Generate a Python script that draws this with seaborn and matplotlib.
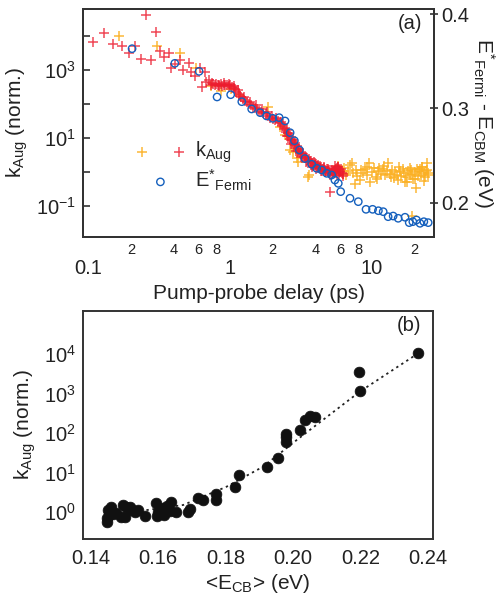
import numpy as np
import pandas as pd
import matplotlib
matplotlib.use("Agg")
import matplotlib.pyplot as plt
import seaborn as sns
from matplotlib.ticker import FixedLocator, FixedFormatter
from matplotlib.legend_handler import HandlerTuple

# ---------------- data: panel (a) ----------------
# red k_Aug crosses: delay (ps), log10 k
red_t = [0.108, 0.129, 0.150, 0.172, 0.194, 0.213, 0.235, 0.255, 0.279, 0.300,
         0.320, 0.342, 0.372, 0.386, 0.408, 0.447, 0.466, 0.514, 0.534, 0.563,
         0.611, 0.636, 0.662, 0.679, 0.716, 0.74, 0.76, 0.78, 0.80, 0.82,
         0.84, 0.86, 0.88, 0.90, 0.92, 0.95, 0.98, 1.00, 1.03, 1.06,
         1.09, 1.11, 1.13, 1.17, 1.20, 1.24, 1.28, 1.32, 1.36, 1.40,
         1.45, 1.50, 1.55, 1.60, 1.66, 1.72, 1.78, 1.85, 1.92, 2.00,
         2.08, 2.16, 2.25, 2.32, 2.40, 2.48, 2.56, 2.64, 2.72, 2.80,
         2.90, 3.00, 3.10, 3.22, 3.35, 3.50, 3.65, 3.80, 3.95, 4.10,
         4.30, 4.50, 4.70, 4.90, 5.10, 5.30, 5.50, 5.70, 5.90, 6.10,
         6.30, 5.10,
         1.15, 1.26, 1.38, 1.52, 1.68, 1.82, 1.98, 2.12, 2.28, 2.36,
         2.44, 2.52, 2.60, 2.68, 2.76, 2.85, 2.95, 3.05, 3.16, 3.28,
         3.42, 3.58, 3.72, 3.88, 4.02, 4.20, 4.40, 4.60, 4.80, 5.00,
         5.20, 5.40, 5.60, 5.80, 6.00, 2.50, 2.70, 2.90, 3.15, 3.45,
         3.75, 4.05, 4.35, 4.65, 4.95, 5.25, 5.55, 5.85,
         2.58, 2.74, 2.88, 3.02, 3.20, 3.38, 3.55, 3.70, 3.85, 4.00,
         4.15, 4.32, 4.48, 4.62, 4.78, 4.92, 5.06, 5.22, 5.38, 5.52,
         5.66, 5.78, 5.95, 6.05, 6.20, 0.75, 0.83, 0.91, 0.99, 1.07]
red_logk = [3.81, 4.08, 3.76, 3.69, 3.49, 3.71, 3.32, 4.62, 3.30, 4.11,
            3.57, 3.37, 3.49, 3.05, 3.18, 3.30, 3.01, 3.20, 2.93, 2.83,
            3.05, 2.49, 2.95, 2.64, 2.71, 2.55, 2.58, 2.56, 2.60, 2.55,
            2.57, 2.58, 2.54, 2.57, 2.55, 2.56, 2.52, 2.57, 2.50, 2.53,
            2.45, 2.34, 2.40, 2.23, 2.20, 2.15, 2.10, 2.05, 2.00, 1.96,
            1.92, 1.88, 1.84, 1.80, 1.75, 1.72, 1.69, 1.64, 1.60, 1.56,
            1.52, 1.49, 1.45, 1.36, 1.27, 1.18, 1.07, 0.97, 0.89, 0.81,
            0.71, 0.63, 0.55, 0.48, 0.42, 0.35, 0.30, 0.25, 0.21, 0.17,
            0.13, 0.10, 0.06, 0.03, 0.01, -0.01, 0.05, 0.12, 0.08, -0.02,
            -0.06, -0.58,
            2.30, 2.20, 2.06, 1.97, 1.84, 1.76, 1.66, 1.58, 1.48, 1.42,
            1.30, 1.22, 1.12, 1.04, 0.94, 0.86, 0.76, 0.68, 0.60, 0.52,
            0.45, 0.38, 0.33, 0.28, 0.24, 0.20, 0.16, 0.12, 0.09, 0.06,
            0.04, 0.02, 0.10, 0.15, 0.02, 1.05, 0.83, 0.62, 0.43, 0.30,
            0.16, 0.08, 0.04, 0.00, -0.04, -0.06, -0.03, -0.10,
            1.15, 0.95, 0.80, 0.68, 0.54, 0.40, 0.36, 0.22, 0.18, 0.26,
            0.12, 0.18, 0.04, 0.14, 0.02, 0.10, -0.08, 0.07, -0.04, 0.18,
            -0.10, 0.16, 0.00, 0.10, -0.12, 2.62, 2.52, 2.62, 2.60, 2.47]

# orange k_Aug crosses: delay (ps), log10 k
orange_t = [0.164, 0.306, 0.447, 0.579, 0.737, 0.868, 1.02, 1.16, 1.86, 2.25,
            2.44, 2.66, 2.78, 2.96, 3.03, 3.56, 3.58, 5.6, 5.8, 6.0,
            6.2, 6.4, 6.6, 6.8, 7.0, 7.2, 7.4, 7.7, 7.9, 8.2,
            8.4, 8.7, 9.0, 9.3, 9.6, 9.7, 10.0, 10.3, 10.6, 11.0,
            11.3, 11.6, 12.0, 12.4, 12.7, 13.0, 13.4, 13.8, 14.2, 14.6,
            15.0, 15.3, 15.7, 16.1, 16.5, 16.9, 17.3, 17.6, 18.0, 18.4,
            18.8, 19.2, 19.6, 20.0, 20.4, 20.8, 21.2, 21.6, 22.0, 22.4,
            22.7, 23.1, 23.5, 23.9, 24.3, 24.7, 25.0, 7.6, 9.2, 10.8,
            12.2, 13.6, 15.5, 17.0, 18.6, 20.2, 21.8, 23.3, 24.6, 19.0]
orange_logk = [3.99, 3.71, 3.49, 3.05, 2.52, 2.37, 2.44, 2.26, 1.92, 1.33,
               1.09, 0.65, 0.60, 0.40, 0.30, -0.14, -0.09, 0.10, 0.18, 0.05,
               -0.05, 0.12, -0.10, 0.02, 0.20, 0.26, -0.02, 0.07, -0.12, -0.23,
               0.05, -0.02, 0.10, -0.08, 0.26, -0.28, 0.00, 0.12, -0.15, 0.04,
               0.11, -0.05, 0.08, -0.10, 0.02, 0.26, -0.06, 0.06, -0.18, 0.00,
               -0.08, -0.23, 0.04, -0.12, 0.08, -0.02, -0.16, -0.28, 0.02, -0.10,
               0.06, -0.06, -0.20, 0.00, -0.48, 0.08, -0.12, 0.02, -0.08, 0.16,
               0.16, -0.04, -0.16, 0.04, 0.26, -0.10, -0.02, -0.35, 0.15, -0.22,
               0.18, -0.15, 0.14, -0.30, 0.12, -0.20, 0.10, -0.25, 0.06, -1.29]

# blue E*_Fermi circles: delay (ps), energy (eV)
blue_t = [0.204, 0.408, 0.605, 0.810, 1.01, 1.21, 1.42, 1.63, 1.81, 2.0,
          2.22, 2.44, 2.65, 2.84, 3.08, 3.37, 3.76, 4.08, 4.43, 4.80,
          5.20, 5.48, 5.79, 6.02, 7.0, 8.01, 9.08, 10.1, 11.1, 12.0,
          13.0, 14.1, 15.3, 17.1, 18.3, 19.4, 20.6, 21.8, 23.2, 24.9]
blue_E = [0.3633, 0.3478, 0.3393, 0.3122, 0.3146, 0.3072, 0.2995, 0.2956, 0.2921, 0.2896,
          0.2903, 0.2868, 0.2744, 0.2659, 0.2561, 0.2470, 0.2410, 0.2367, 0.2349, 0.2314,
          0.2296, 0.2243, 0.2208, 0.2120, 0.2050, 0.2014, 0.1933, 0.1933, 0.1918, 0.1908,
          0.1855, 0.1862, 0.1838, 0.1849, 0.1792, 0.1802, 0.1820, 0.1785, 0.1802, 0.1792]

# ---------------- data: panel (b) ----------------
ecb = [0.1447, 0.1448, 0.1452, 0.1455, 0.1461, 0.1465, 0.1476, 0.1490, 0.1496, 0.1501,
       0.1505, 0.1516, 0.1522, 0.1530, 0.1540, 0.1560, 0.1593, 0.1596, 0.1600, 0.1604,
       0.1614, 0.1618, 0.1625, 0.1634, 0.1639, 0.1654, 0.1688, 0.1695, 0.1718, 0.1733,
       0.1772, 0.1772, 0.1827, 0.1840, 0.1923, 0.1956, 0.1979, 0.1980, 0.1980, 0.2020,
       0.2035, 0.2050, 0.2065, 0.2196, 0.2198, 0.2369]
ecb_logk = [-0.25, -0.16, 0.05, -0.08, 0.12, -0.05, -0.03, -0.13, 0.18, -0.12,
            0.14, 0.12, 0.05, 0.01, 0.05, -0.10, 0.22, -0.10, 0.00, 0.05,
            0.11, -0.08, 0.15, 0.04, 0.26, 0.01, 0.01, 0.08, 0.35, 0.30,
            0.47, 0.30, 0.64, 0.95, 1.13, 1.38, 1.91, 1.78, 1.98, 2.08,
            2.33, 2.43, 2.40, 3.55, 3.07, 4.03]
fit_E = [0.1565, 0.1674, 0.1802, 0.1911, 0.2010, 0.2198, 0.2371]
fit_logk = [0.05, 0.18, 0.64, 1.15, 1.82, 3.05, 4.02]

# tick labels
xa_major = [0.1, 1, 10]
xa_major_labels = ["0.1", "1", "10"]
xa_minor = [0.2, 0.3, 0.4, 0.5, 0.6, 0.7, 0.8, 0.9, 2, 3, 4, 5, 6, 7, 8, 9, 20]
xa_minor_labels = ["2", "", "4", "", "6", "", "8", "", "2", "", "4", "", "6", "", "8", "", "2"]
ya_ticks = [1e-1, 1, 1e1, 1e2, 1e3, 1e4]
ya_labels = ["$10^{-1}$", "", "$10^{1}$", "", "$10^{3}$", ""]
yr_ticks = [0.2, 0.3, 0.4]
yr_labels = ["0.2", "0.3", "0.4"]
xb_ticks = [0.14, 0.16, 0.18, 0.20, 0.22, 0.24]
xb_labels = ["0.14", "0.16", "0.18", "0.20", "0.22", "0.24"]
yb_ticks = [1, 1e1, 1e2, 1e3, 1e4]
yb_labels = ["$10^{0}$", "$10^{1}$", "$10^{2}$", "$10^{3}$", "$10^{4}$"]

# ---------------- style ----------------
sns.set_theme(style="white")
plt.rcParams["font.family"] = ["Liberation Sans", "DejaVu Sans"]
plt.rcParams["mathtext.fontset"] = "custom"
plt.rcParams["mathtext.rm"] = "Liberation Sans"
plt.rcParams["mathtext.it"] = "Liberation Sans:italic"
plt.rcParams["mathtext.bf"] = "Liberation Sans:bold"
plt.rcParams["axes.linewidth"] = 1.4
plt.rcParams["axes.edgecolor"] = "#333333"

TXT = "#222222"
RED = "#ec1c2e"
ORANGE = "#fbb023"
BLUE = "#1560bd"

fig = plt.figure(figsize=(5.03, 6.0), dpi=100)
ax1 = fig.add_axes([0.165, 0.605, 0.698, 0.380])
ax2 = fig.add_axes([0.165, 0.1017, 0.696, 0.380])

df_red = pd.DataFrame({"t": red_t, "k": 10 ** np.array(red_logk)})
df_or = pd.DataFrame({"t": orange_t, "k": 10 ** np.array(orange_logk)})
df_blue = pd.DataFrame({"t": blue_t, "E": blue_E})
df_b = pd.DataFrame({"E": ecb, "k": 10 ** np.array(ecb_logk)})
df_fit = pd.DataFrame({"E": fit_E, "k": 10 ** np.array(fit_logk)})

# ---- panel (a) ----
ax1.set_xscale("log")
ax1.set_yscale("log")
sns.scatterplot(data=df_or, x="t", y="k", ax=ax1, marker="+", color=ORANGE,
                s=50, linewidth=1.1, alpha=0.9, legend=False)
sns.scatterplot(data=df_red, x="t", y="k", ax=ax1, marker="+", color=RED,
                s=50, linewidth=1.1, alpha=0.8, legend=False)
ax1.set_xlim(0.092, 27.4)
ax1.set_ylim(10 ** -1.91, 10 ** 4.79)

ax1r = ax1.twinx()
sns.scatterplot(data=df_blue, x="t", y="E", ax=ax1r, marker="o", facecolor="none",
                edgecolor=BLUE, s=28, linewidth=1.0, legend=False)
ax1r.set_ylim(0.164, 0.4053)
ax1r.set_xlim(0.092, 27.4)

ax1.xaxis.set_major_locator(FixedLocator(xa_major))
ax1.xaxis.set_major_formatter(FixedFormatter(xa_major_labels))
ax1.xaxis.set_minor_locator(FixedLocator(xa_minor))
ax1.xaxis.set_minor_formatter(FixedFormatter(xa_minor_labels))
ax1.yaxis.set_major_locator(FixedLocator(ya_ticks))
ax1.yaxis.set_major_formatter(FixedFormatter(ya_labels))
ax1.yaxis.set_minor_locator(FixedLocator([]))
ax1.tick_params(axis="x", which="major", direction="in", length=6, width=1.2,
                labelsize=14.5, pad=16, colors="#333333", labelcolor=TXT)
ax1.tick_params(axis="x", which="minor", direction="in", length=3.5, width=1.1,
                labelsize=10.5, pad=4, colors="#333333", labelcolor=TXT)
ax1.tick_params(axis="y", which="major", direction="in", length=5, width=1.2,
                labelsize=14.5, pad=5, colors="#333333", labelcolor=TXT)
ax1r.yaxis.set_major_locator(FixedLocator(yr_ticks))
ax1r.yaxis.set_major_formatter(FixedFormatter(yr_labels))
ax1r.tick_params(axis="y", which="major", direction="inout", length=6, width=1.2,
                 labelsize=14.5, pad=2, colors="#333333", labelcolor=TXT)
ax1r.set_xlabel("")
ax1.set_xlabel("Pump-probe delay (ps)", fontsize=15, color=TXT, labelpad=4)
ax1.set_ylabel(r"$\mathrm{k_{Aug}}$ (norm.)", fontsize=15, color=TXT, labelpad=4)
ax1r.set_ylabel(r"$\mathrm{E^{*}{}_{Fermi}}$ - $\mathrm{E_{CBM}}$ (eV)", fontsize=15,
                color=TXT, rotation=270, labelpad=20)
ax1.text(0.965, 0.935, "(a)", transform=ax1.transAxes, ha="right", va="center",
         fontsize=14.5, color=TXT)

h_or = ax1.collections[0]
h_red = ax1.collections[1]
h_blue = ax1r.collections[0]
ax1r.legend([(h_or, h_red), h_blue], [r"$\mathrm{k_{Aug}}$", r"$\mathrm{E^{*}{}_{Fermi}}$"],
            handler_map={tuple: HandlerTuple(ndivide=None, pad=1.2)},
            loc="center left", bbox_to_anchor=(0.1, 0.31), frameon=False,
            fontsize=14.5, handlelength=2.4, handletextpad=0.5, labelspacing=0.1,
            markerscale=1.0)

# ---- panel (b) ----
ax2.set_yscale("log")
sns.lineplot(data=df_fit, x="E", y="k", ax=ax2, color="#222222", linestyle=(0, (1.3, 2.0)),
             linewidth=1.3)
sns.scatterplot(data=df_b, x="E", y="k", ax=ax2, color="#111111", s=60,
                edgecolor="#111111", linewidth=0.5, legend=False, zorder=3)
ax2.set_xlim(0.1377, 0.2415)
ax2.set_ylim(10 ** -0.68, 10 ** 5.09)
ax2.xaxis.set_major_locator(FixedLocator(xb_ticks))
ax2.xaxis.set_major_formatter(FixedFormatter(xb_labels))
ax2.yaxis.set_major_locator(FixedLocator(yb_ticks))
ax2.yaxis.set_major_formatter(FixedFormatter(yb_labels))
ax2.yaxis.set_minor_locator(FixedLocator([]))
ax2.tick_params(axis="both", which="major", direction="in", length=5, width=1.2,
                labelsize=14.5, colors="#333333", labelcolor=TXT)
ax2.tick_params(axis="x", pad=7)
ax2.tick_params(axis="y", pad=5)
ax2.set_xlabel(r"<$\mathrm{E_{CB}}$> (eV)", fontsize=15, color=TXT, labelpad=3)
ax2.set_ylabel(r"$\mathrm{k_{Aug}}$ (norm.)", fontsize=15, color=TXT, labelpad=4)
ax2.text(0.965, 0.935, "(b)", transform=ax2.transAxes, ha="right", va="center",
         fontsize=14.5, color=TXT)

for a in (ax1, ax1r, ax2):
    for sp in a.spines.values():
        sp.set_visible(True)
        sp.set_linewidth(1.4)
        sp.set_color("#333333")

fig.savefig("out.png", dpi=100)
